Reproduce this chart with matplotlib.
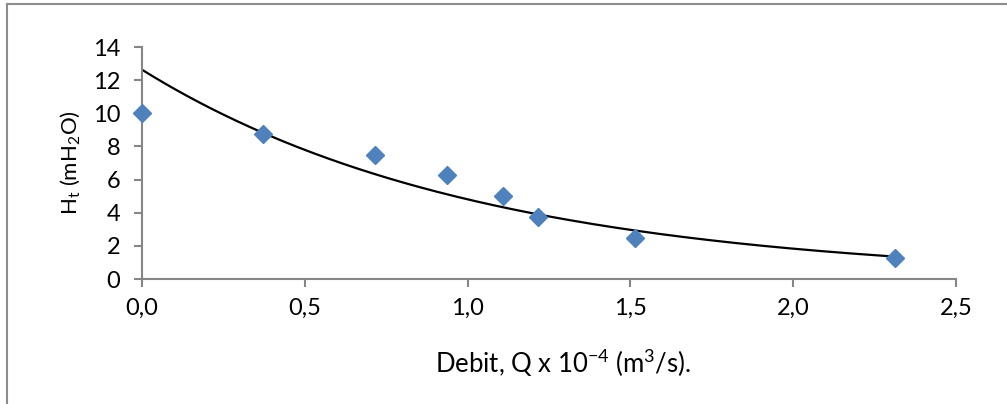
import numpy as np
import matplotlib
matplotlib.use('Agg')
import matplotlib.pyplot as plt
from matplotlib.lines import Line2D
from matplotlib.ticker import FuncFormatter, MultipleLocator

plt.rcParams['font.family'] = ['Lato', 'DejaVu Sans']
plt.rcParams['mathtext.fontset'] = 'custom'
plt.rcParams['mathtext.rm'] = 'Lato'
plt.rcParams['mathtext.it'] = 'Lato:italic'

# debit (x 1e-4 m3/s) and total head (mH2O)
debit = [0.0, 0.372, 0.716, 0.937, 1.109, 1.216, 1.515, 2.313]
head = [10.0, 8.75, 7.5, 6.25, 5.0, 3.75, 2.5, 1.25]

axis_gray = '#868686'

fig = plt.figure(figsize=(10.07, 4.04), dpi=100)
ax = fig.add_axes([142 / 1007, 125 / 404, 814 / 1007, 232 / 404])

# exponential trendline, least squares on ln(H)
b, lna = np.polyfit(debit, np.log(head), 1)
xt = np.linspace(min(debit), max(debit), 200)
ax.plot(xt, np.exp(lna) * np.exp(b * xt), color='black', lw=1.6, zorder=2)

ax.plot(debit, head, linestyle='none', marker='D', ms=9.5,
        color='#4F81BD', mec='#4F81BD', zorder=3, clip_on=False)

ax.set_xlim(0, 2.5)
ax.set_ylim(0, 14)
ax.xaxis.set_major_locator(MultipleLocator(0.5))
ax.yaxis.set_major_locator(MultipleLocator(2))
ax.xaxis.set_major_formatter(FuncFormatter(lambda v, p: ('%.1f' % v).replace('.', ',')))
ax.yaxis.set_major_formatter(FuncFormatter(lambda v, p: '%d' % v))

for s in ['top', 'right']:
    ax.spines[s].set_visible(False)
for s in ['left', 'bottom']:
    ax.spines[s].set_color(axis_gray)
    ax.spines[s].set_linewidth(1.5)
ax.tick_params(axis='both', direction='out', length=5.5, width=1.5,
               color=axis_gray, labelsize=17, labelcolor='black')
ax.tick_params(axis='x', pad=8)
ax.tick_params(axis='y', pad=10)

ax.set_xlabel('Debit, Q x 10$\\mathregular{^{-4}}$ (m$\\mathregular{^{3}}$/s).',
              fontsize=18.5)
ax.xaxis.set_label_coords((563 - 142) / 814, (279 - 363) / 232)
ax.xaxis.label.set_va('center')
ax.set_ylabel('H$\\mathregular{_t}$ (mH$\\mathregular{_2}$O)', fontsize=16)
ax.yaxis.set_label_coords((70 - 142) / 814, 0.5)
ax.yaxis.label.set_va('center')

# outer chart frame
fig.add_artist(Line2D([7 / 1007, 1], [1 - 4 / 404, 1 - 4 / 404],
                      transform=fig.transFigure, color='#8c8c8c', lw=1.5))
fig.add_artist(Line2D([7 / 1007, 7 / 1007], [0, 1 - 4 / 404],
                      transform=fig.transFigure, color='#8c8c8c', lw=1.5))

fig.savefig('out.png', dpi=100)
